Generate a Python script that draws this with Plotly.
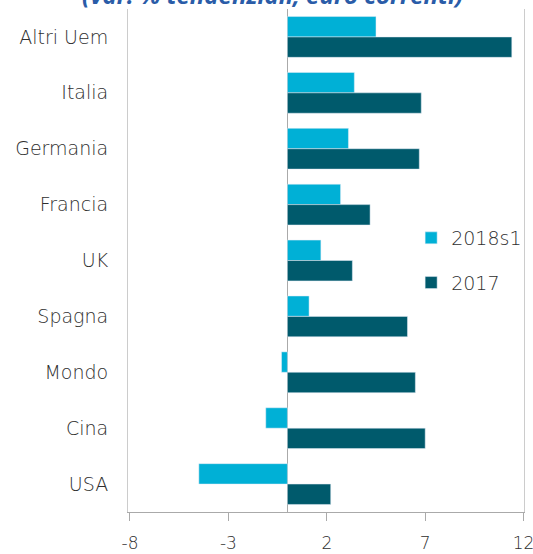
import plotly.graph_objects as go

paesi = ["Altri Uem", "Italia", "Germania", "Francia", "UK", "Spagna", "Mondo", "Cina", "USA"]
val_2018s1 = [4.5, 3.4, 3.1, 2.7, 1.7, 1.1, -0.3, -1.1, -4.5]
val_2017 = [11.4, 6.8, 6.7, 4.2, 3.3, 6.1, 6.5, 7.0, 2.2]
tick_x = [-8, -3, 2, 7, 12]
tick_labels = ["-8", "-3", "2", "7", "12"]

fig = go.Figure()

fig.add_bar(
    y=paesi,
    x=val_2018s1,
    orientation="h",
    name="2018s1",
    marker_color="#00B0D6",
    legendgroup="a",
)

fig.add_bar(
    y=paesi,
    x=val_2017,
    orientation="h",
    name="2017",
    marker_color="#005A6C",
    legendgroup="b",
)

fig.update_layout(
    width=533,
    height=554,
    barmode="group",
    bargap=0.27,
    bargroupgap=0,
    plot_bgcolor="white",
    paper_bgcolor="white",
    margin=dict(l=128, r=9, t=9, b=42, autoexpand=False),
    font=dict(family="DejaVu Sans", color="#2E2E2E"),
    legend=dict(
        x=0.715,
        y=0.5,
        yanchor="middle",
        xanchor="left",
        font=dict(size=19, color="#2E2E2E", weight=200),
        traceorder="grouped",
        tracegroupgap=17,
        bgcolor="rgba(0,0,0,0)",
    ),
    annotations=[
        dict(
            text="<b><i>(var. % tendenziali, euro correnti)</i></b>",
            xref="paper",
            yref="paper",
            x=0.366,
            y=1.028,
            xanchor="center",
            yanchor="middle",
            showarrow=False,
            font=dict(size=24, color="#2A5CA8", family="Open Sans"),
        )
    ],
)

fig.update_xaxes(
    range=[-8.1, 12.02],
    tickvals=tick_x,
    ticktext=tick_labels,
    automargin=False,
    ticklabeloverflow="allow",
    ticklabelstandoff=8,
    showgrid=False,
    zeroline=True,
    zerolinecolor="#AAAAAA",
    zerolinewidth=1,
    showline=True,
    linecolor="#AAAAAA",
    ticks="outside",
    ticklen=8,
    tickcolor="#AAAAAA",
    tickfont=dict(size=17, color="#2E2E2E", weight=200),
)

fig.update_yaxes(
    autorange="reversed",
    automargin=False,
    showgrid=False,
    showline=True,
    mirror=True,
    linecolor="#CCCCCC",
    ticks="",
    ticklabelstandoff=15,
    tickfont=dict(size=19, color="#2E2E2E", weight=200),
)

# the page has a default 8px body margin; drop it so the figure fills the window
fig.write_html(
    "out.html",
    config={"displayModeBar": False},
    post_script="document.body.style.margin='0';",
)
